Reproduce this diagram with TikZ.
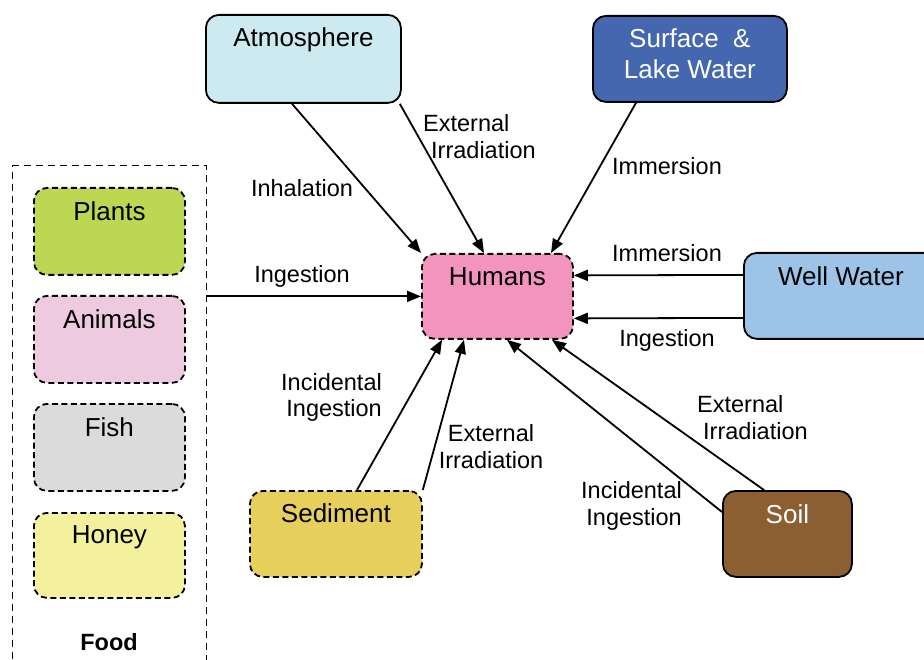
\documentclass[tikz,border=0pt]{standalone}
\usepackage{fontspec}
\setmainfont{Liberation Sans}
\usetikzlibrary{arrows.meta}
\definecolor{atmc}{HTML}{CDEAF0}
\definecolor{surfc}{HTML}{4467B0}
\definecolor{wellc}{HTML}{9DC3E6}
\definecolor{humc}{HTML}{F294BE}
\definecolor{plantc}{HTML}{BDD753}
\definecolor{animc}{HTML}{EDCAE0}
\definecolor{fishc}{HTML}{DBDBDB}
\definecolor{honeyc}{HTML}{F3F19E}
\definecolor{sedc}{HTML}{E6D05B}
\definecolor{soilc}{HTML}{8C5F33}
\begin{document}
\begin{tikzpicture}[x=1pt,y=-1pt,
  box/.style={draw=black, line width=1.8pt, rounded corners=13pt, inner sep=0pt,
    anchor=north west, align=center, font=\fontsize{26}{31}\selectfont, text height=32pt},
  dbox/.style={box, dash pattern=on 6pt off 3.5pt},
  lab/.style={font=\fontsize{23.5}{27}\selectfont, inner sep=0pt},
  arr/.style={line width=1.8pt, -{Triangle[length=14pt,width=11pt]}},
]
\useasboundingbox (0,0) rectangle (924,660);

% food container
\node[draw=black, line width=1.3pt, dash pattern=on 7pt off 5pt, minimum width=194pt,
  minimum height=530pt, anchor=north west, inner sep=0pt] (food) at (12,165) {};
\node[lab, font=\fontsize{23.5}{27}\selectfont\bfseries, anchor=base] (foodlab) at (109,650) {Food};

% boxes
\node[box, fill=atmc, minimum width=195pt, minimum height=88pt, text depth=56pt] (atm) at (205,14) {Atmosphere};
\node[box, fill=surfc, text=white, minimum width=194pt, minimum height=86pt, text height=63pt, text depth=23pt] (surf) at (592,15) {Surface\ \ \&\\Lake Water};
\node[box, fill=wellc, minimum width=194pt, minimum height=86pt, text height=33pt, text depth=53pt] (well) at (743,252) {Well Water};
\node[dbox, fill=humc, minimum width=151pt, minimum height=85pt, text depth=53pt] (hum) at (421,253) {Humans};
\node[dbox, fill=plantc, minimum width=151pt, minimum height=87pt, text height=33pt, text depth=54pt] (plants) at (33,187) {Plants};
\node[dbox, fill=animc, minimum width=151pt, minimum height=87pt, text height=33pt, text depth=54pt] (animals) at (33,295) {Animals};
\node[dbox, fill=fishc, minimum width=151pt, minimum height=87pt, text height=33pt, text depth=54pt] (fish) at (33,403) {Fish};
\node[dbox, fill=honeyc, minimum width=151pt, minimum height=85pt, text height=31pt, text depth=54pt] (honey) at (33,512) {Honey};
\node[dbox, fill=sedc, minimum width=172pt, minimum height=86pt, text depth=54pt] (sed) at (249,490) {Sediment};
\node[box, fill=soilc, text=white, minimum width=129pt, minimum height=86pt, text height=33pt, text depth=53pt] (soil) at (722,490) {Soil};

% arrows
\draw[arr] ([xshift=87pt]atm.south west) -- (hum.north west);
\draw[arr] ([xshift=-2pt]atm.south east) -- ([xshift=63pt]hum.north west);
\draw[arr] ([xshift=44pt]surf.south west) -- ([xshift=130pt]hum.north west);
\draw[arr] (food.east |- hum.west) -- (hum.west);
\draw[arr] ([yshift=21pt]well.west) -- ([yshift=21pt]hum.east);
\draw[arr] ([yshift=-22pt]well.west) -- ([yshift=-22pt]hum.east);
\draw[arr] ([xshift=108pt]sed.north west) -- ([xshift=21pt]hum.south west);
\draw[arr] (sed.north east) -- ([xshift=43pt]hum.south west);
\draw[arr] ([yshift=-22pt]soil.north west) -- ([xshift=86pt]hum.south west);
\draw[arr] ([xshift=42pt]soil.north west) -- ([xshift=131pt]hum.south west);

% labels (anchor=base of a multi-line node is the last line's baseline)
\node[lab, anchor=base] (l1) at (302,197) {Inhalation};
\node[lab, anchor=base west, align=left] (l2) at (423,159) {External\\\hspace*{8pt}Irradiation};
\node[lab, anchor=base] (l3) at (667,175) {Immersion};
\node[lab, anchor=base] (l4) at (667,262) {Immersion};
\node[lab, anchor=base] (l5) at (667,347) {Ingestion};
\node[lab, anchor=base] (l6) at (302,283) {Ingestion};
\node[lab, anchor=base east, align=right] (l7) at (382,417) {Incidental\\Ingestion};
\node[lab, anchor=base, align=center] (l8) at (491,468) {External\\Irradiation};
\node[lab, anchor=base west, align=left] (l9) at (697,439) {External\\\hspace*{6pt}Irradiation};
\node[lab, anchor=base east, align=right] (l10) at (682,525) {Incidental\\Ingestion};
\end{tikzpicture}
\end{document}
